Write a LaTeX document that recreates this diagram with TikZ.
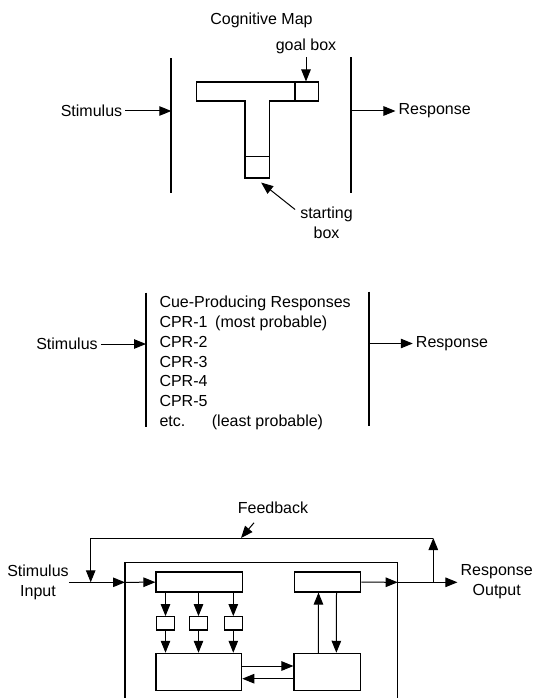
\documentclass[tikz,border=0pt]{standalone}
\usepackage{fontspec}
\setmainfont{Liberation Sans}
\usetikzlibrary{arrows.meta,positioning,calc}

\newcommand{\lblfont}{\fontsize{16}{20}\selectfont}
\newcommand{\cprfont}{\fontsize{16}{19.8}\selectfont}

\begin{document}
\begin{tikzpicture}[
    x=1pt, y=-1pt,
    txt/.style={font=\lblfont, inner sep=3pt},
    pair/.style={font=\lblfont, inner sep=0pt, align=center},
    bar/.style={line width=1.8pt},
    box/.style={draw, line width=1.1pt, inner sep=0pt},
    arrow/.style={-{Triangle[length=12pt,width=9.5pt]}, line width=1pt}
]
    \useasboundingbox (0,0) rectangle (534,698);

    % Cognitive map (top)
    \node[txt] (title) at (261.5,20) {Cognitive Map};
    \node[txt] (stimA) at (91.5,111) {Stimulus};
    \node[txt] (respA) at (434.7,111) {Response};
    \coordinate (barAL) at (171.3,111);
    \coordinate (barAR) at (350.8,111);
    \draw[bar] (171.3,58.3) -- (171.3,193.3);
    \draw[bar] (350.8,57.5) -- (350.8,193);
    \draw[arrow] (stimA) -- (barAL);
    \draw[arrow] (barAR) -- (respA);

    % T maze
    \draw[line width=1.1pt] (196.7,82) -- (318.3,82) -- (318.3,101) -- (269.3,101) -- (269.3,178)
        -- (245,178) -- (245,101) -- (196.7,101) -- cycle;
    \node[box, minimum width=22.6pt, minimum height=19pt] (goalbox) at (307,91.5) {};
    \draw[line width=1.7pt] (goalbox.north west) -- (goalbox.south west);
    \node[box, minimum width=24.3pt, minimum height=21.3pt] (startbox) at (257.15,167.35) {};
    \node[txt] (goallbl) at (306,46.7) {goal box};
    \node[pair, anchor=north] (startlbl) at (326.5,206.5) {starting\\box};
    \draw[arrow] (goallbl.south) -- (goallbl.south |- goalbox.north);
    \draw[arrow] ([shift={(-5,3)}]startlbl.north west) -- ([shift={(4,4)}]startbox.south);

    % Cue-producing responses (middle)
    \node[txt] (stimB) at (67,344) {Stimulus};
    \node[txt] (respB) at (452,343.5) {Response};
    \coordinate (barBL) at (146,344);
    \coordinate (barBR) at (369.3,343.5);
    \draw[bar] (146,292.7) -- (146,426.7);
    \draw[bar] (369.3,291.7) -- (369.3,425.5);
    \node[font=\cprfont, inner sep=0pt, align=left, anchor=north west] (cpr) at (159.3,296)
        {Cue-Producing Responses\\
         CPR-1\hspace{7.7pt}(most probable)\\
         CPR-2\\CPR-3\\CPR-4\\CPR-5\\
         etc.\hspace{26.6pt}(least probable)};
    \draw[arrow] (stimB) -- (barBL);
    \draw[arrow] (barBR) -- (respB);

    % Feedback system (bottom)
    \node[txt] (fblbl) at (273,507.7) {Feedback};
    \node[pair, anchor=north] (stimC) at (38,564.5) {Stimulus\\Input};
    \node[pair, anchor=north] (respC) at (496.7,564.5) {Response\\Output};
    \coordinate (inJ) at (90.7,582.3);
    \coordinate (inL) at (125,582.3);
    \coordinate (outR) at (397.7,582.3);
    \coordinate (outJ) at (433.3,582.3);
    \coordinate (fbL) at (90.7,538);
    \coordinate (fbR) at (433.3,538);
    \coordinate (fbpt) at (241,538);
    \draw[line width=1.2pt] (125,698) -- (125,562.3) -- (397.7,562.3) -- (397.7,698);

    \node[box, minimum width=86.7pt, minimum height=20pt] (inbox) at (199.35,582) {};
    \node[box, minimum width=66.4pt, minimum height=20pt] (outbox) at (327.5,582) {};
    \node[box, minimum width=18.5pt, minimum height=13.3pt] (s1) at (165.5,623.3) {};
    \node[box, minimum width=18.5pt, minimum height=13.3pt] (s2) at (198.5,623.3) {};
    \node[box, minimum width=18.5pt, minimum height=13.3pt] (s3) at (233.3,623.3) {};
    \node[box, minimum width=85.7pt, minimum height=37.4pt] (memL) at (198.85,672) {};
    \node[box, minimum width=66.7pt, minimum height=37.4pt] (memR) at (327.35,672) {};

    % Input and output lines
    \draw[arrow] (stimC.north east |- inL) -- (inL);
    \draw[arrow] (inL) -- (inbox);
    \draw[arrow] (outbox) -- (outR);
    \draw[arrow] (outR) -- ([xshift=-3pt]respC.north west |- outR);

    % Feedback loop
    \draw[arrow] (outJ) -- (fbR);
    \draw[arrow] (fbR) -- (fbL) -- (inJ);
    \draw[arrow] ([shift={(-19,6)}]fblbl.south) -- (fbpt);

    % Inner connections
    \foreach \s in {s1,s2,s3}{
        \draw[arrow] (inbox.south -| \s) -- (\s.north);
        \draw[arrow] (\s.south) -- (\s.south |- memL.north);
    }
    \draw[arrow] ([yshift=6pt]memL.east) -- ([yshift=6pt]memR.west);
    \draw[arrow] ([yshift=-6.7pt]memR.west) -- ([yshift=-6.7pt]memL.east);
    \draw[arrow] ([xshift=-9pt]memR.north) -- ([xshift=-9pt]outbox.south);
    \draw[arrow] ([xshift=9pt]outbox.south) -- ([xshift=9pt]memR.north);
\end{tikzpicture}
\end{document}
